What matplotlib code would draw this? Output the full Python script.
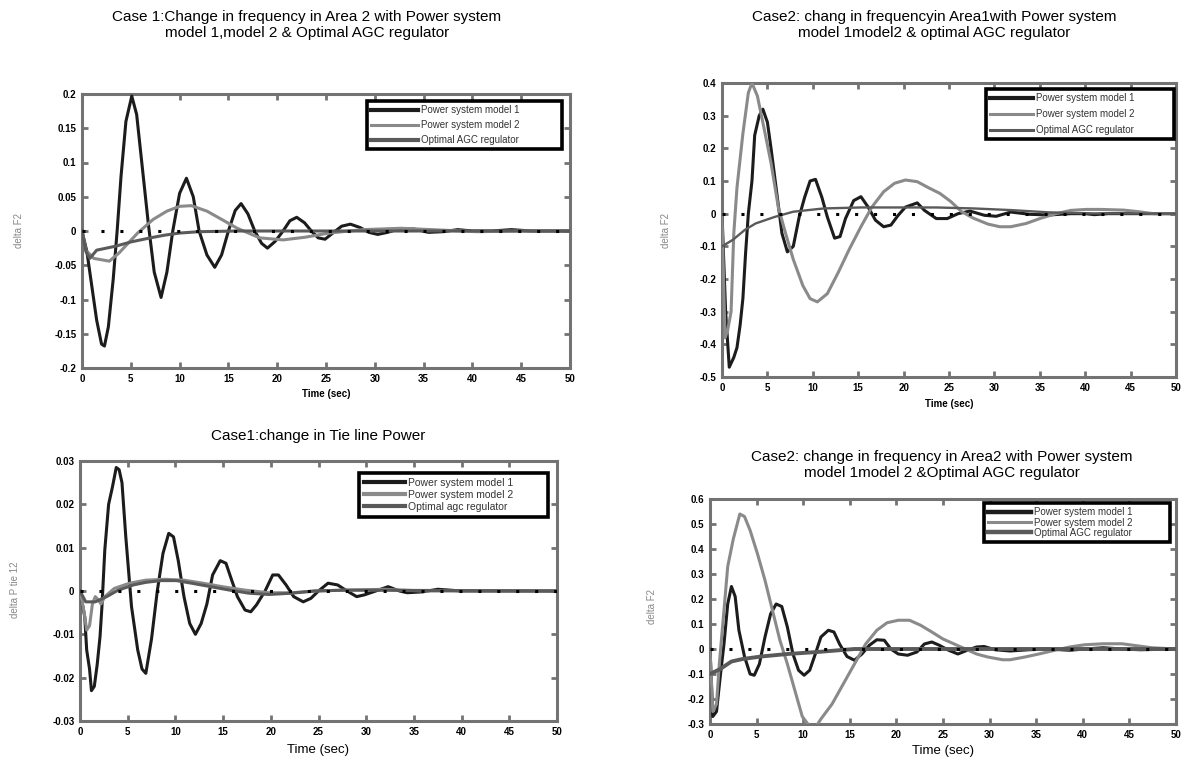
import matplotlib
matplotlib.use("Agg")
import matplotlib.pyplot as plt

plt.rcParams['font.family'] = ['Liberation Sans', 'DejaVu Sans']

W, H = 1183, 761

# ---------------- data ----------------
labels_case1 = ["Power system model 1", "Power system model 2", "Optimal AGC regulator"]
labels_case2 = ["Power system model 1", "Power system model 2", "Optimal AGC regulator"]
labels_tie = ["Power system model 1", "Power system model 2", "Optimal agc regulator"]

# Panel 1: Case 1, delta F2
p1_m1_t = [0, 0.5, 1.0, 1.5, 2.0, 2.3, 2.7, 3.2, 3.6, 4.0, 4.5, 5.1, 5.6, 6.2, 6.8, 7.4, 8.1, 8.7,
           9.3, 10.0, 10.7, 11.4, 12.0, 12.8, 13.6, 14.3, 15.0, 15.7, 16.3, 17.0, 17.7, 18.4, 19.0,
           19.8, 20.6, 21.3, 22.0, 22.8, 23.5, 24.2, 24.9, 25.7, 26.6, 27.5, 28.5, 29.4, 30.3, 31.3,
           32.5, 34, 35.5, 37, 38.5, 40, 42, 44, 46, 50]
p1_m1_v = [0, -0.03, -0.08, -0.13, -0.165, -0.168, -0.14, -0.07, 0.0, 0.08, 0.16, 0.197, 0.17, 0.09,
           0.01, -0.06, -0.097, -0.06, 0.0, 0.055, 0.077, 0.05, 0.0, -0.035, -0.053, -0.035, 0.0, 0.03,
           0.04, 0.025, 0.0, -0.018, -0.025, -0.015, 0.0, 0.015, 0.02, 0.012, 0.0, -0.01, -0.012,
           -0.003, 0.007, 0.01, 0.005, -0.002, -0.005, -0.002, 0.003, 0.003, -0.002, -0.001, 0.002,
           0.0, 0.0, 0.002, 0.0, 0.0]
p1_m2_t = [0, 0.4, 1.2, 2.0, 2.8, 3.8, 5.7, 7.3, 8.7, 10.0, 11.2, 12.8, 14.3, 15.9, 18.2, 20.6,
           22.9, 25.3, 28.8, 32.7, 35.8, 40.5, 44.8, 50]
p1_m2_v = [0, -0.028, -0.04, -0.042, -0.044, -0.032, -0.003, 0.017, 0.029, 0.036, 0.037, 0.029,
           0.017, 0.004, -0.01, -0.013, -0.009, -0.003, 0.002, 0.004, 0.002, -0.001, 0.0, 0.0]
p1_op_t = [0, 0.4, 0.8, 1.5, 2.5, 3.5, 5.0, 7.0, 8.5, 10.0, 12.0, 16, 20, 30, 40, 50]
p1_op_v = [0, -0.03, -0.04, -0.028, -0.025, -0.022, -0.016, -0.01, -0.006, -0.003, -0.001, 0.0,
           0.0, 0.0, 0.0, 0.0]

# Panel 2: Case 2, delta F2 (Area 1)
p2_m1_t = [0, 0.4, 0.8, 1.3, 1.65, 2.0, 2.3, 2.6, 2.9, 3.3, 3.6, 4.1, 4.5, 5.0, 5.4, 6.0, 6.6, 7.2,
           7.85, 8.5, 9.1, 9.7, 10.3, 11.0, 11.6, 12.4, 13.0, 13.6, 14.5, 15.3, 16.1, 16.9, 17.8,
           18.6, 19.4, 20.2, 21.5, 22.3, 23.6, 24.8, 26.0, 27.3, 28.9, 30.2, 31.8, 33.9, 36.0, 38.4,
           40, 41, 42.5, 50]
p2_m1_v = [0, -0.3, -0.47, -0.44, -0.41, -0.34, -0.26, -0.12, 0.0, 0.1, 0.24, 0.3, 0.32, 0.28, 0.2,
           0.07, -0.06, -0.117, -0.1, -0.01, 0.05, 0.1, 0.105, 0.05, -0.01, -0.075, -0.07, -0.015,
           0.04, 0.052, 0.02, -0.02, -0.04, -0.035, -0.005, 0.02, 0.033, 0.01, -0.015, -0.015, 0.0,
           0.008, -0.005, -0.008, 0.005, -0.002, -0.004, 0.0, 0.0, -0.003, 0.0, 0.0]
p2_m2_t = [0, 0.33, 0.6, 1.0, 1.3, 1.65, 2.3, 2.9, 3.3, 3.9, 4.75, 5.4, 6.2, 7.0, 7.85, 8.9, 9.7,
           10.5, 11.6, 12.8, 14.0, 15.3, 16.5, 17.8, 19.0, 20.2, 21.5, 22.7, 24.0, 25.2, 26.4, 27.7,
           29.3, 30.6, 31.8, 33.5, 35.1, 36.8, 38.4, 40.1, 41.7, 44.2, 45.9, 47.5, 50]
p2_m2_v = [0, -0.38, -0.36, -0.3, -0.06, 0.08, 0.245, 0.37, 0.4, 0.36, 0.245, 0.155, 0.02, -0.06,
           -0.14, -0.22, -0.26, -0.27, -0.245, -0.18, -0.11, -0.04, 0.02, 0.067, 0.093, 0.103, 0.098,
           0.08, 0.062, 0.037, 0.006, -0.014, -0.032, -0.04, -0.04, -0.03, -0.014, 0.0, 0.01, 0.013,
           0.013, 0.011, 0.006, 0.0, 0.0]
p2_op_t = [0, 1.2, 2.5, 3.7, 5.8, 7.85, 11.2, 15.3, 23.6, 27.7, 31.8, 36.0, 40.0, 50]
p2_op_v = [-0.1, -0.08, -0.05, -0.03, -0.01, 0.006, 0.016, 0.019, 0.019, 0.016, 0.011, 0.004,
           0.001, 0.0]

# Panel 3: Case 1, delta P tie 12
p3_m1_t = [0, 0.5, 0.7, 1.0, 1.2, 1.5, 1.8, 2.1, 2.3, 2.6, 3.0, 3.4, 3.8, 4.1, 4.4, 4.8, 5.4, 6.05,
           6.5, 6.9, 7.5, 8.1, 8.7, 9.3, 9.8, 10.3, 10.9, 11.5, 12.1, 12.7, 13.3, 13.9, 14.7, 15.3,
           15.9, 16.5, 17.3, 17.9, 18.5, 19.4, 20.2, 20.8, 21.6, 22.4, 23.4, 24.2, 25.0, 26.0, 27.0,
           28.0, 29.0, 29.8, 31.0, 32.3, 33.5, 34.3, 35.9, 37.5, 40, 50]
p3_m1_v = [0, -0.006, -0.0136, -0.018, -0.023, -0.022, -0.017, -0.0105, -0.0036, 0.0095, 0.02,
           0.024, 0.0285, 0.028, 0.025, 0.0125, -0.0036, -0.0136, -0.018, -0.019, -0.011, 0.0,
           0.0087, 0.0133, 0.0125, 0.007, -0.0013, -0.0075, -0.01, -0.0075, -0.003, 0.0037, 0.007,
           0.0064, 0.0025, -0.0013, -0.0044, -0.0048, -0.0032, 0.0, 0.0037, 0.0037, 0.0014, -0.0013,
           -0.0025, -0.0017, 0.0, 0.0018, 0.0014, 0.0, -0.0013, -0.0009, 0.0, 0.001, 0.0, -0.0004,
           -0.0002, 0.0004, 0.0, 0.0]
p3_m2_t = [0, 0.4, 0.7, 1.0, 1.3, 1.6, 1.9, 2.2, 2.6, 3.6, 5.2, 6.9, 8.9, 10.9, 12.9, 14.9, 17.3,
           19.8, 22.2, 24.6, 27.8, 31.9, 35.9, 50]
p3_m2_v = [0, -0.0045, -0.009, -0.008, -0.003, -0.0013, -0.002, -0.003, -0.0013, 0.0006, 0.0018,
           0.0025, 0.0027, 0.0025, 0.0018, 0.001, 0.0002, -0.0004, -0.0004, 0.0, 0.0002, 0.0004, 0.0,
           0.0]
p3_op_t = [0, 0.6, 1.6, 2.8, 4.0, 5.6, 6.9, 8.5, 10.1, 11.7, 13.7, 15.7, 17.7, 19.8, 22.2, 24.6,
           27.8, 50]
p3_op_v = [0, -0.0025, -0.0025, -0.0013, 0.0002, 0.0014, 0.002, 0.0024, 0.0024, 0.0018, 0.001,
           0.0002, -0.0005, -0.0008, -0.0005, 0.0, 0.0002, 0.0]

# Panel 4: Case 2, delta F2 (Area 2)
p4_m1_t = [0, 0.3, 0.7, 1.1, 1.5, 1.9, 2.3, 2.7, 3.1, 3.7, 4.3, 4.75, 5.3, 5.9, 6.5, 7.1, 7.7, 8.3,
           8.9, 9.5, 10.1, 10.7, 11.3, 11.9, 12.7, 13.3, 13.9, 14.7, 15.5, 16.3, 17.1, 17.9, 18.7,
           19.4, 20.2, 21.2, 22.2, 23.0, 23.8, 24.6, 25.6, 26.6, 27.6, 28.6, 29.4, 30.6, 32.2, 34.2,
           36.2, 38.6, 40.2, 42.2, 44.2, 46.2, 50]
p4_m1_v = [0, -0.27, -0.25, -0.11, 0.02, 0.18, 0.25, 0.21, 0.075, -0.03, -0.1, -0.105, -0.06, 0.048,
           0.14, 0.18, 0.17, 0.088, -0.02, -0.085, -0.105, -0.085, -0.02, 0.048, 0.075, 0.068, 0.02,
           -0.03, -0.045, -0.02, 0.015, 0.037, 0.035, 0.0, -0.02, -0.025, -0.012, 0.02, 0.028, 0.015,
           -0.005, -0.02, -0.005, 0.008, 0.01, -0.003, -0.008, -0.003, 0.0, -0.005, 0.0, 0.005, 0.0,
           -0.003, 0.0]
p4_m2_t = [0, 0.3, 0.7, 1.0, 1.5, 1.9, 2.5, 3.2, 3.7, 4.3, 5.1, 5.9, 6.7, 7.5, 8.3, 9.1, 9.9, 10.5,
           11.2, 11.9, 13.1, 14.3, 15.5, 16.7, 17.9, 19.0, 20.2, 21.4, 22.6, 23.8, 25.0, 26.2, 27.4,
           28.6, 29.8, 31.4, 32.2, 33.8, 35.4, 37.0, 38.6, 40.2, 42.2, 44.2, 45.8, 47.4, 50]
p4_m2_v = [0, -0.25, -0.22, -0.06, 0.155, 0.33, 0.44, 0.54, 0.53, 0.475, 0.38, 0.275, 0.155, 0.035,
           -0.06, -0.165, -0.27, -0.3, -0.32, -0.28, -0.22, -0.14, -0.06, 0.02, 0.075, 0.105, 0.115,
           0.115, 0.095, 0.068, 0.04, 0.02, 0.0, -0.02, -0.032, -0.043, -0.043, -0.032, -0.019,
           -0.005, 0.008, 0.017, 0.021, 0.021, 0.013, 0.005, 0.0]
p4_op_t = [0, 1.1, 2.3, 3.5, 5.5, 8.3, 11.5, 15.5, 25, 35, 50]
p4_op_v = [-0.1, -0.08, -0.05, -0.04, -0.03, -0.02, -0.012, 0.0, 0.0, 0.0, 0.0]

x_ticks = [0, 5, 10, 15, 20, 25, 30, 35, 40, 45, 50]
p1_yticks = [-0.2, -0.15, -0.1, -0.05, 0, 0.05, 0.1, 0.15, 0.2]
p1_ylabels = ["-0.2", "-0.15", "-0.1", "-0.05", "0", "0.05", "0.1", "0.15", "0.2"]
p2_yticks = [-0.5, -0.4, -0.3, -0.2, -0.1, 0, 0.1, 0.2, 0.3, 0.4]
p2_ylabels = ["-0.5", "-0.4", "-0.3", "-0.2", "-0.1", "0", "0.1", "0.2", "0.3", "0.4"]
p3_yticks = [-0.03, -0.02, -0.01, 0, 0.01, 0.02, 0.03]
p3_ylabels = ["-0.03", "-0.02", "-0.01", "0", "0.01", "0.02", "0.03"]
p4_yticks = [-0.3, -0.2, -0.1, 0, 0.1, 0.2, 0.3, 0.4, 0.5, 0.6]
p4_ylabels = ["-0.3", "-0.2", "-0.1", "0", "0.1", "0.2", "0.3", "0.4", "0.5", "0.6"]

# ---------------- styling ----------------
C_M1 = "#1c1c1c"
C_M2 = "#8a8a8a"
C_OP = "#5a5a5a"
SPINE = "#737373"


def fx(x):
    return x / W


def fy(y):
    return 1 - y / H


fig = plt.figure(figsize=(W / 100, H / 100), dpi=100)


def make_axes(l, t, r, b):
    return fig.add_axes([fx(l), fy(b), fx(r) - fx(l), fy(t) - fy(b)])


def style(ax, yticks, ylabels, ylim):
    ax.set_xlim(0, 50)
    ax.set_ylim(*ylim)
    ax.set_xticks(x_ticks)
    ax.set_xticklabels([str(v) for v in x_ticks])
    ax.set_yticks(yticks)
    ax.set_yticklabels(ylabels)
    for s in ax.spines.values():
        s.set_color(SPINE)
        s.set_linewidth(2.2)
    ax.tick_params(direction="in", length=4, width=2, color=SPINE, top=True, right=True,
                   labelsize=7, pad=4)
    for lab in ax.get_xticklabels() + ax.get_yticklabels():
        lab.set_fontweight("bold")
    ax.plot([0, 50], [0, 0], color="k", lw=2.2, ls=(0, (1, 5.2)), zorder=4)


def curves(ax, data, labels, lws):
    hs = []
    for (t, v, c), lab, lw in zip(data, labels, lws):
        h, = ax.plot(t, v, color=c, lw=lw, label=lab, solid_joinstyle="round", zorder=3)
        hs.append(h)
    return hs


def legend(ax, box, fs, hl, ls, lws, hpad=0.3):
    l, t, r, b = box
    leg = ax.legend(loc="upper left",
                    bbox_to_anchor=(fx(l), fy(b), fx(r) - fx(l), fy(t) - fy(b)),
                    bbox_transform=fig.transFigure, mode="expand", fontsize=fs, frameon=True,
                    fancybox=False, framealpha=1, edgecolor="black", borderpad=0.45,
                    handlelength=hl, handletextpad=hpad, labelspacing=ls, borderaxespad=0,
                    labelcolor="#333333")
    leg.get_frame().set_linewidth(2.6)
    for line, lw in zip(leg.get_lines(), lws):
        line.set_linewidth(lw)
    return leg


TITLE_FS = 11

# Panel 1
ax1 = make_axes(82, 94, 570, 368)
style(ax1, p1_yticks, p1_ylabels, (-0.2, 0.2))
curves(ax1, [(p1_m1_t, p1_m1_v, C_M1), (p1_m2_t, p1_m2_v, C_M2), (p1_op_t, p1_op_v, C_OP)],
       labels_case1, [2.2, 2.2, 2.2])
legend(ax1, (367, 101, 562, 146), 7, 4.8, 0.5, [3, 2.2, 3], hpad=0.35)
ax1.set_xlabel("Time (sec)", fontsize=7, fontweight="bold")
ax1.xaxis.set_label_coords(fx(326), fy(389), transform=fig.transFigure)
ax1.set_ylabel("delta F2", fontsize=7, color="#888888")
ax1.yaxis.set_label_coords(fx(24), fy(231), transform=fig.transFigure)
fig.text(fx(307), fy(25), "Case 1:Change in frequency in Area 2 with Power system\n"
         "model 1,model 2 & Optimal AGC regulator", ha="center", va="center",
         fontsize=TITLE_FS, linespacing=1.15)

# Panel 2
ax2 = make_axes(722, 83, 1176, 377)
style(ax2, p2_yticks, p2_ylabels, (-0.5, 0.4))
curves(ax2, [(p2_m1_t, p2_m1_v, C_M1), (p2_m2_t, p2_m2_v, C_M2), (p2_op_t, p2_op_v, C_OP)],
       labels_case2[:2] + ["Optimal AGC regulator"], [2.2, 2.2, 1.7])
legend(ax2, (986, 89, 1174, 142), 7, 4.4, 0.6, [3, 2.2, 2.2])
ax2.set_xlabel("Time (sec)", fontsize=7, fontweight="bold")
ax2.xaxis.set_label_coords(fx(949), fy(399), transform=fig.transFigure)
ax2.set_ylabel("delta F2", fontsize=7, color="#888888")
ax2.yaxis.set_label_coords(fx(671), fy(230), transform=fig.transFigure)
fig.text(fx(934), fy(25), "Case2: chang in frequencyin Area1with Power system\n"
         "model 1model2 & optimal AGC regulator", ha="center", va="center",
         fontsize=TITLE_FS, linespacing=1.15)

# Panel 3
ax3 = make_axes(80, 461, 557, 721)
style(ax3, p3_yticks, p3_ylabels, (-0.03, 0.03))
curves(ax3, [(p3_m1_t, p3_m1_v, C_M1), (p3_m2_t, p3_m2_v, C_M2), (p3_op_t, p3_op_v, C_OP)],
       labels_tie, [2.2, 2.2, 2.2])
legend(ax3, (359, 473, 548, 518), 7.5, 4.0, 0.2, [3, 3, 3])
ax3.set_xlabel("Time (sec)", fontsize=9.5)
ax3.xaxis.set_label_coords(fx(318), fy(744), transform=fig.transFigure)
ax3.set_ylabel("delta P tie 12", fontsize=7, color="#888888")
ax3.yaxis.set_label_coords(fx(20), fy(590), transform=fig.transFigure)
fig.text(fx(318), fy(436), "Case1:change in Tie line Power", ha="center", va="center",
         fontsize=TITLE_FS)

# Panel 4
ax4 = make_axes(710, 499, 1176, 724)
style(ax4, p4_yticks, p4_ylabels, (-0.3, 0.6))
curves(ax4, [(p4_m1_t, p4_m1_v, C_M1), (p4_m2_t, p4_m2_v, C_M2), (p4_op_t, p4_op_v, C_OP)],
       labels_case2, [2.2, 2.2, 2.8])
legend(ax4, (984, 503, 1170, 540), 7, 4.4, 0.02, [3.2, 2.2, 3.2])
ax4.set_xlabel("Time (sec)", fontsize=9.5)
ax4.xaxis.set_label_coords(fx(943), fy(745), transform=fig.transFigure)
ax4.set_ylabel("delta F2", fontsize=7, color="#888888")
ax4.yaxis.set_label_coords(fx(657), fy(607), transform=fig.transFigure)
fig.text(fx(942), fy(465), "Case2: change in frequency in Area2 with Power system\n"
         "model 1model 2 &Optimal AGC regulator", ha="center", va="center",
         fontsize=TITLE_FS, linespacing=1.2)

fig.savefig("out.png", dpi=100)
